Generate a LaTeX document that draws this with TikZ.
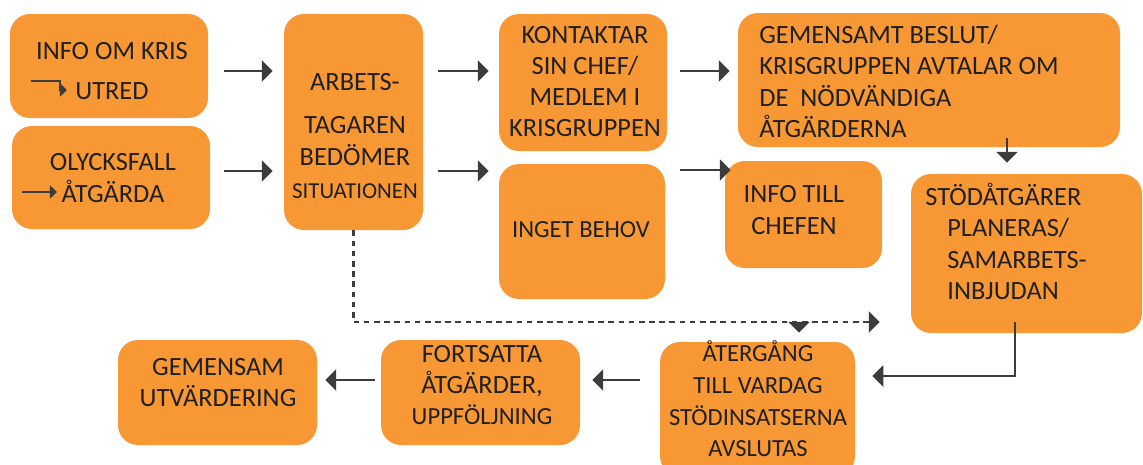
\documentclass[tikz,border=0pt]{standalone}
\usepackage{fontspec}
\setmainfont{Carlito}
\usetikzlibrary{arrows.meta}
\definecolor{oransje}{RGB}{247,152,52}
\definecolor{tekstgraa}{RGB}{32,32,32}
\definecolor{pilgraa}{RGB}{60,60,60}

\begin{document}
\begin{tikzpicture}[x=0.02cm, y=-0.02cm,
    boks/.style 2 args={fill=oransje, rounded corners=0.4cm, minimum width=#1*0.02cm, minimum height=#2*0.02cm, inner sep=0pt},
    tekst/.style={text=tekstgraa, font=\fontsize{15}{17.8}\selectfont, inner sep=0pt, align=center},
    pil/.style={draw=pilgraa, line width=1.1pt, -{Triangle[length=6.2pt,width=12pt]}},
    prikk/.style={pil, line width=1.4pt, dash pattern=on 3.2pt off 2.6pt},
    minipil/.style={draw=pilgraa, line width=0.6pt, -{Triangle[length=4pt,width=7.5pt]}}]
    \useasboundingbox (0,0) rectangle (1143,464);

    \node[boks={198}{104}] (info) at (109,66) {};
    \node[boks={198}{103}] (olycka) at (111,177.5) {};
    \node[boks={139}{216}] (bedomer) at (353.5,122) {};
    \node[boks={168}{137}] (kontakt) at (583,82.5) {};
    \node[boks={382}{134}] (beslut) at (929,80) {};
    \node[boks={166}{135}] (inget) at (582,231.5) {};
    \node[boks={157}{107}] (infochef) at (803.5,214.5) {};
    \node[boks={231}{159}] (stod) at (1026.5,253.5) {};
    \node[boks={195}{134}] (atergang) at (757.5,409) {};
    \node[boks={199}{105}] (fortsatta) at (480.5,392.5) {};
    \node[boks={199}{105}] (utvard) at (217.5,392.5) {};

    \node[tekst] (tinfo) at (112,71) {INFO OM KRIS\\[4.9pt]UTRED};
    \node[tekst] (tolycka) at (113,178) {OLYCKSFALL\\ÅTGÄRDA};
    \node[tekst] (tbedomer) at (355,136) {ARBETS-\\[6.6pt]TAGAREN\\BEDÖMER\\[1pt]{\fontsize{13}{16}\selectfont SITUATIONEN}};
    \node[tekst] (tkontakt) at (585,81.5) {KONTAKTAR\\SIN CHEF/\\MEDLEM I\\KRISGRUPPEN};
    \node[tekst, anchor=west, align=left] (tbeslut) at (759,81.5) {GEMENSAMT BESLUT/\\KRISGRUPPEN AVTALAR OM\\DE\ \ NÖDVÄNDIGA\\ÅTGÄRDERNA};
    \node[tekst, font=\fontsize{14}{17}\selectfont] (tinget) at (581,230) {INGET BEHOV};
    \node[tekst] (tinfochef) at (794,210) {INFO TILL\\CHEFEN};
    \node[tekst, anchor=west, align=left] (tstod) at (947,241.5) {\hspace*{-12.5pt}STÖDÅTGÄRER\\PLANERAS/\\SAMARBETS-\\INBJUDAN};
    \node[tekst, font=\fontsize{14}{18}\selectfont] (tatergang) at (758,399) {ÅTERGÅNG\\TILL VARDAG\\STÖDINSATSERNA\\AVSLUTAS};
    \node[tekst] (tfortsatta) at (482,385) {FORTSATTA\\ÅTGÄRDER,\\{\fontsize{14}{17}\selectfont UPPFÖLJNING}};
    \node[tekst] (tutvard) at (218,382.5) {GEMENSAM\\UTVÄRDERING};

    \coordinate (u1) at (31,81);
    \coordinate (u2) at (67,90);
    \draw[minipil] (u1) -| ([xshift=-0.14cm]u2) -- (u2);
    \coordinate (a1) at (22,192);
    \coordinate (a2) at (57,192);
    \draw[minipil] (a1) -- (a2);

    \draw[pil, shorten <=0.32cm, shorten >=0.22cm] ([yshift=-0.1cm]info.east) -- ([yshift=-0.1cm]info.east -| bedomer.west);
    \draw[pil, shorten <=0.28cm, shorten >=0.22cm] ([yshift=0.13cm]olycka.east) -- ([yshift=0.13cm]olycka.east -| bedomer.west);
    \draw[pil, shorten <=0.3cm, shorten >=0.2cm] ([yshift=0.23cm]kontakt.west -| bedomer.east) -- ([yshift=0.23cm]kontakt.west);
    \draw[pil, shorten <=0.3cm, shorten >=0.2cm] ([yshift=1.21cm]inget.west -| bedomer.east) -- ([yshift=1.21cm]inget.west);
    \draw[pil, shorten <=0.26cm, shorten >=0.16cm] ([yshift=0.23cm]kontakt.east) -- ([yshift=0.23cm]kontakt.east -| beslut.west);
    \draw[pil, shorten <=0.3cm, shorten >=-0.12cm] ([yshift=1.23cm]inget.east) -- ([yshift=1.23cm]inget.east -| infochef.west);
    \draw[pil, shorten <=-0.18cm, shorten >=0.22cm] ([xshift=1.56cm]beslut.south) -- ([xshift=1.56cm]beslut.south |- stod.north);
    \draw[pil, shorten <=-0.22cm, shorten >=0.34cm] ([xshift=-0.23cm]stod.south) |- ([yshift=0.66cm]atergang.east);
    \draw[pil, shorten <=0.4cm, shorten >=0.24cm] ([yshift=0.25cm]fortsatta.east -| atergang.west) -- ([yshift=0.25cm]fortsatta.east);
    \draw[pil, shorten <=0.12cm, shorten >=0.16cm] ([yshift=0.25cm]utvard.east -| fortsatta.west) -- ([yshift=0.25cm]utvard.east);

    \draw[prikk, shorten >=0.62cm] (bedomer.south) |- ([yshift=-1.37cm]stod.west);
    \draw[pil, shorten >=0.18cm] ([xshift=0.83cm, yshift=0.4cm]atergang.north) -- ([xshift=0.83cm]atergang.north);
\end{tikzpicture}
\end{document}
